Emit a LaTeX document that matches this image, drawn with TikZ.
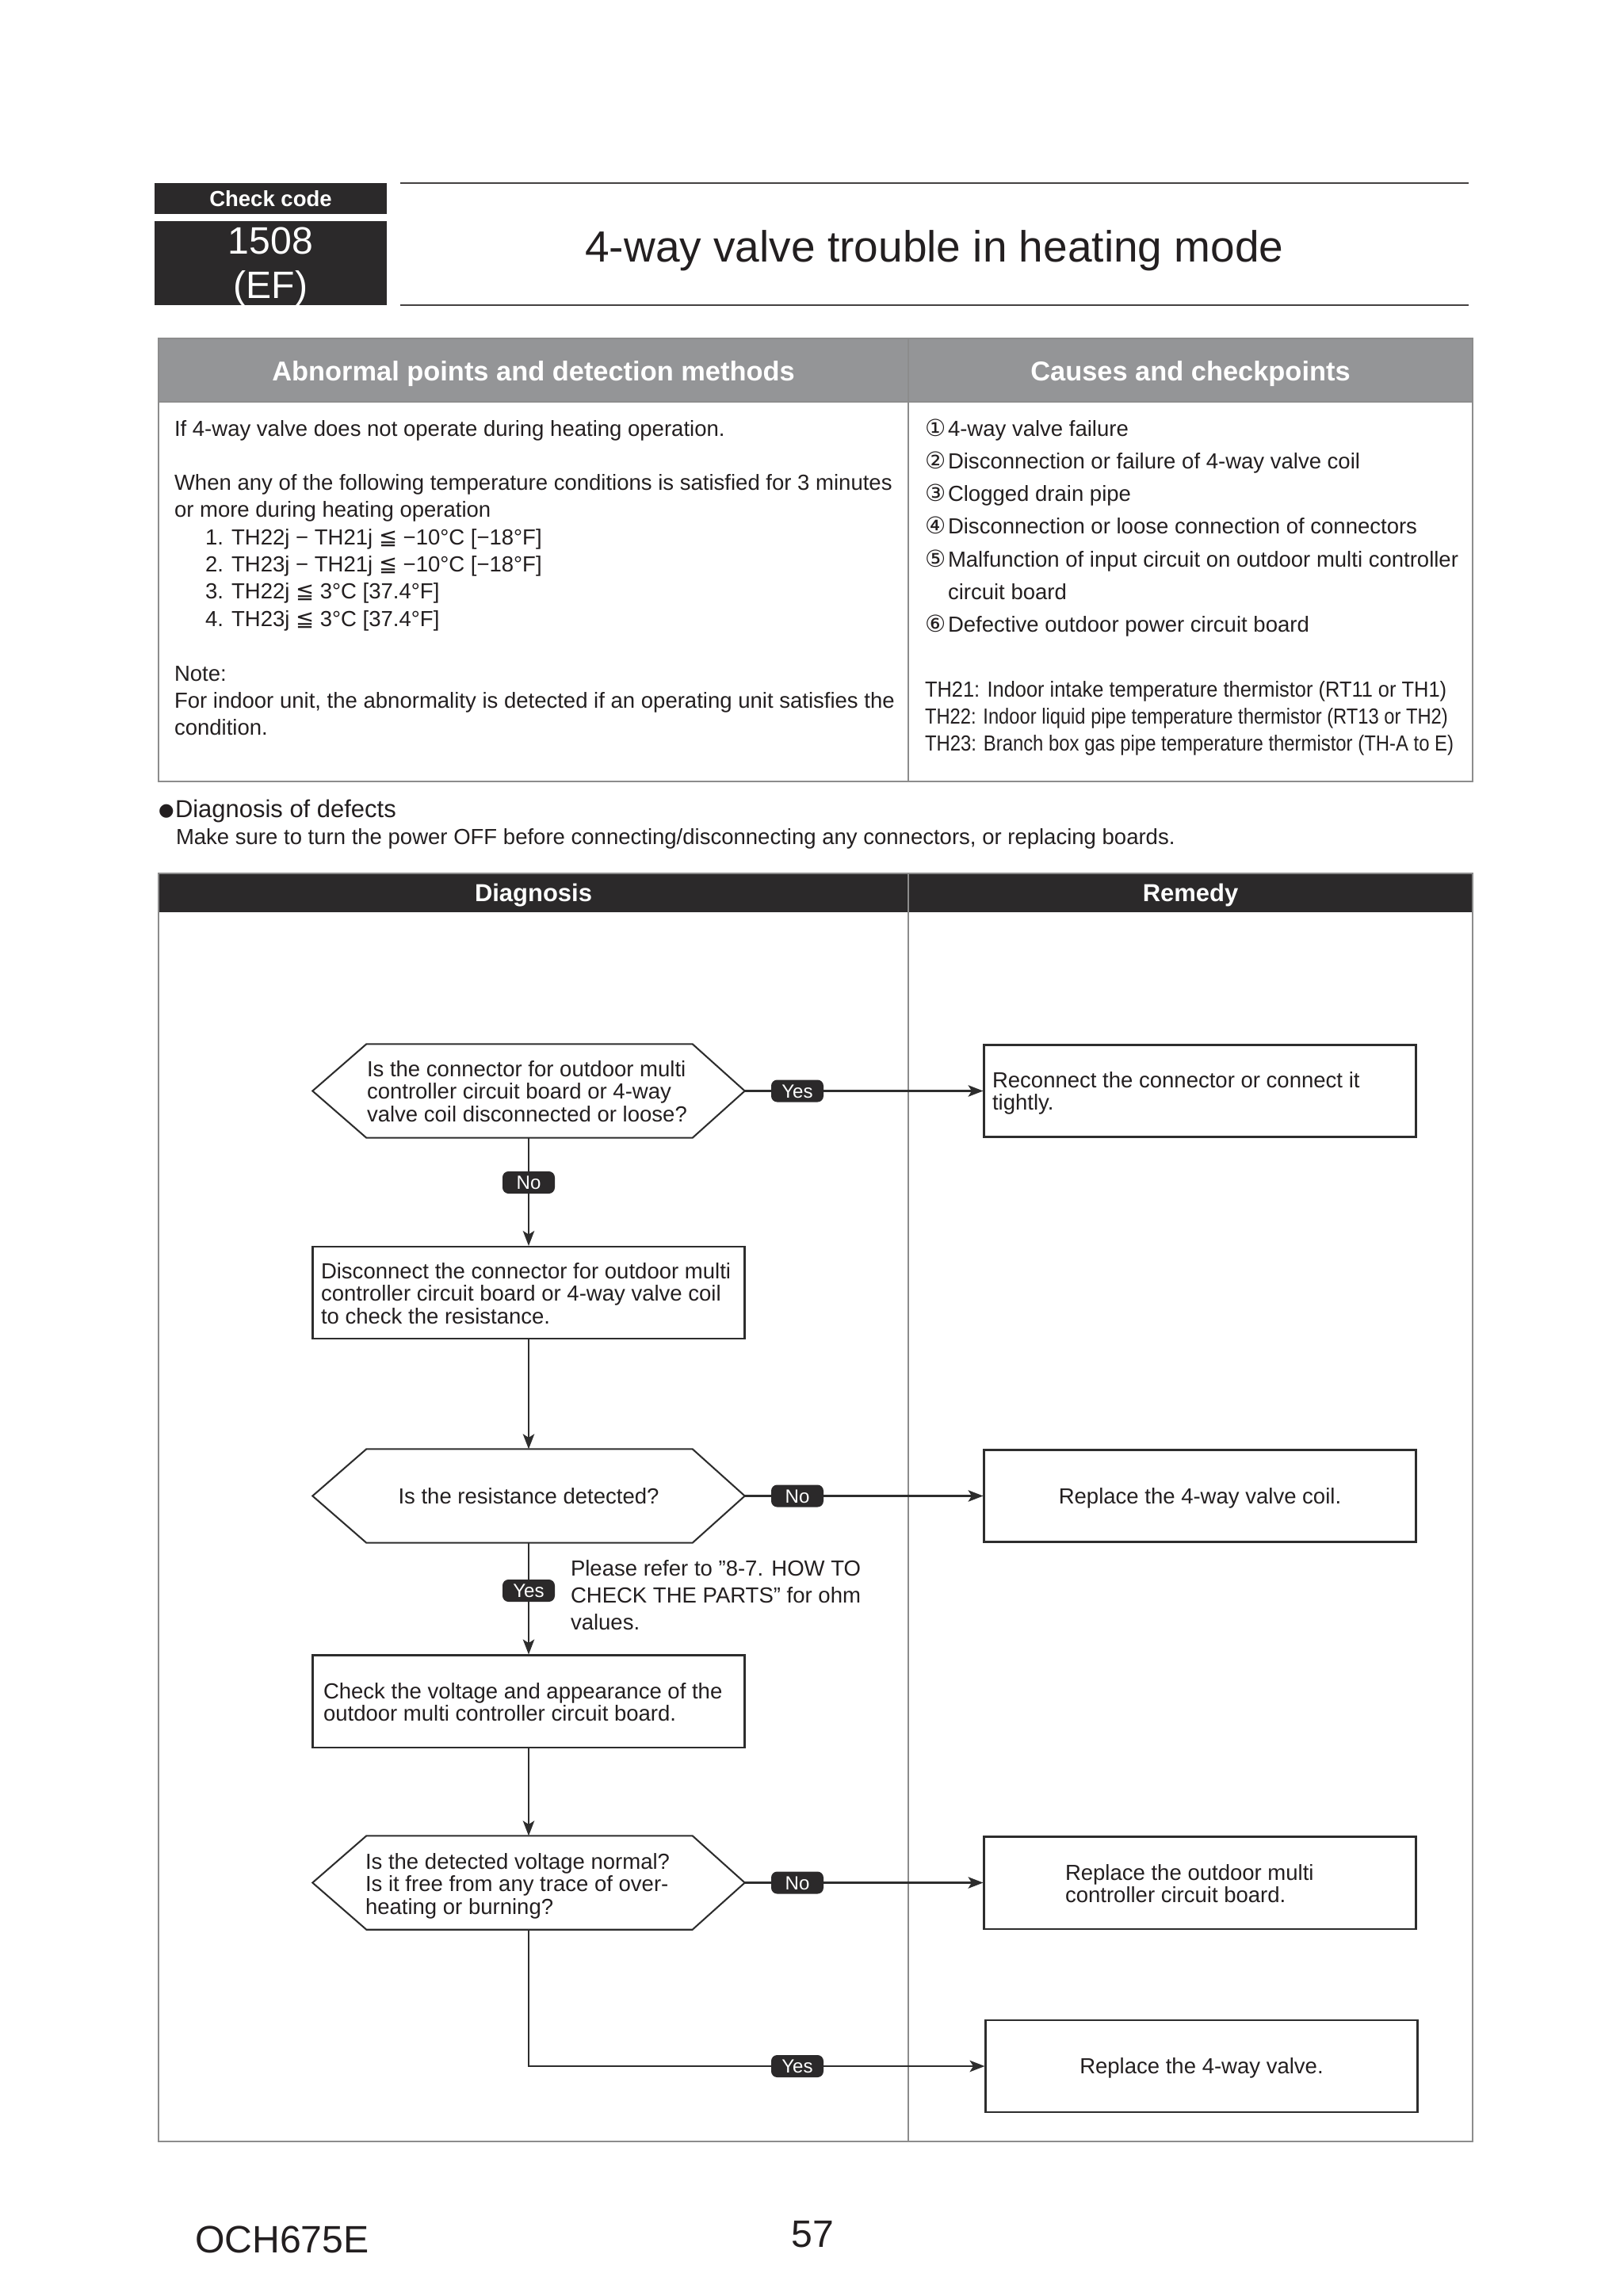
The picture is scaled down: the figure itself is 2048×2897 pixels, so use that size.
\documentclass[tikz,border=0pt]{standalone}
\usepackage{fontspec}
\setmainfont{Liberation Sans}[Ligatures=ResetAll]
\newfontfamily\dejavu{DejaVu Sans}
\usepackage{graphicx}
\usetikzlibrary{calc,arrows.meta}
\definecolor{ink}{RGB}{35,31,32}
\definecolor{dark}{RGB}{43,41,42}
\definecolor{hdrgray}{RGB}{148,149,151}
\definecolor{rulec}{RGB}{140,140,140}
\definecolor{linec}{RGB}{45,45,45}
\newcommand\fs[2]{\fontsize{#1}{#2}\selectfont}
\newcommand\fstrut{\rule{0pt}{7pt}}
\newcommand\mylq{{\dejavu ≦}}
\newcommand\hexof[1]{\draw[hexs] (#1.west) -- ($(#1.north west)+(68,0)$) -- ($(#1.north east)+(-66,0)$) -- (#1.east) -- ($(#1.south east)+(-66,0)$) -- ($(#1.south west)+(68,0)$) -- cycle;}
\begin{document}
\begin{tikzpicture}[x=0.29066pt,y=-0.29066pt,
  txt/.style={inner sep=0pt, outer sep=0pt, text=ink, font=\fs{8}{10}},
  one/.style={txt, anchor=base west},
  onec/.style={txt, anchor=base},
  blk/.style={txt, anchor=north west, align=left, yshift=7pt},
  blkc/.style={txt, anchor=north, align=center, yshift=7pt},
  fbox/.style={draw=linec, line width=0.6pt, minimum width=158.41pt, minimum height=33.72pt, inner sep=0pt},
  dec/.style={minimum width=158.12pt, minimum height=34.01pt, inner sep=0pt},
  hexs/.style={draw=linec, line width=0.6pt},
  lab/.style={fill=dark, text=white, rounded corners=2.2pt, font=\fs{7}{7}, minimum width=19.18pt, minimum height=8.14pt, inner sep=0pt, text height=5pt, text depth=0pt},
  arr/.style={draw=linec, line width=0.6pt, -{Stealth[length=5.5pt,width=4.2pt,inset=1.3pt]}},
  hdr/.style={inner sep=0pt, text=white, anchor=base}
]
\useasboundingbox (0,0) rectangle (2048,2897);
\fill[white] (0,0) rectangle (2048,2897);

% ---------- header ----------
\node[fill=dark, minimum width=85.16pt, minimum height=11.34pt, inner sep=0pt] (ccbox) at (341.5,250.5) {};
\node[hdr, font=\bfseries\fs{8}{8}] (cctext) at (341.5,260) {Check code};
\node[fill=dark, minimum width=85.16pt, minimum height=30.81pt, inner sep=0pt] (codebox) at (341.5,332) {};
\node[hdr, font=\fs{14}{14}] (code1) at (341.5,320) {1508};
\node[hdr, font=\fs{14}{14}] (code2) at (341.5,376) {(EF)};
\draw[draw=ink!85, line width=0.8pt] (505,231) -- (1853,231);
\draw[draw=ink!85, line width=0.8pt] (505,385) -- (1853,385);
\node[onec, font=\fs{16}{16}] (title) at (1179,330) {4-way valve trouble in heating mode};

% ---------- table 1 ----------
\fill[hdrgray] (200,427) rectangle (1858,507);
\draw[rulec, line width=0.8pt] (200,427) rectangle (1858,986);
\draw[rulec, line width=0.8pt] (200,507) -- (1858,507);
\draw[rulec, line width=0.8pt] (1146,427) -- (1146,986);
\node[hdr, font=\bfseries\fs{10}{10}] (h1) at (673,480) {Abnormal points and detection methods};
\node[hdr, font=\bfseries\fs{10}{10}] (h2) at (1502,480) {Causes and checkpoints};

\node[one] (l1) at (220,550) {If 4-way valve does not operate during heating operation.};
\node[blk] (l2) at (220,618) {\fstrut When any of the following temperature conditions is satisfied for 3 minutes\\or more during heating operation};
\node[blk] (l3) at (259,687) {\fstrut 1. TH22j − TH21j \mylq\ −10°C [−18°F]\\2. TH23j − TH21j \mylq\ −10°C [−18°F]\\3. TH22j \mylq\ 3°C [37.4°F]\\4. TH23j \mylq\ 3°C [37.4°F]};
\node[blk] (l4) at (220,859) {\fstrut Note:\\For indoor unit, the abnormality is detected if an operating unit satisfies the\\condition.};

\node[blk, font=\dejavu\fs{8.5}{12}] (rn) at (1167,550) {\fstrut ①\\②\\③\\④\\⑤\\\mbox{}\\⑥};
\node[blk, font=\fs{8}{12}] (rt) at (1196,550) {\fstrut 4-way valve failure\\Disconnection or failure of 4-way valve coil\\Clogged drain pipe\\Disconnection or loose connection of connectors\\Malfunction of input circuit on outdoor multi controller\\circuit board\\Defective outdoor power circuit board};
\node[blk] (th) at (1167,879) {\fstrut\resizebox{191.3pt}{\height}{TH21: Indoor intake temperature thermistor (RT11 or TH1)}\\\resizebox{191.8pt}{\height}{TH22: Indoor liquid pipe temperature thermistor (RT13 or TH2)}\\\resizebox{193.9pt}{\height}{TH23: Branch box gas pipe temperature thermistor (TH-A to E)}};

% ---------- diagnosis intro ----------
\node[one, font=\dejavu\fs{6.5}{6.5}] (bul) at (200,1029) {●};
\node[one, font=\fs{9}{9}] (diagt) at (221,1031) {Diagnosis of defects};
\node[one] (make) at (222,1065) {Make sure to turn the power OFF before connecting/disconnecting any connectors, or replacing boards.};

% ---------- table 2 ----------
\fill[dark] (200,1102) rectangle (1858,1151);
\draw[rulec, line width=0.8pt] (200,1102) rectangle (1858,2702);
\draw[rulec, line width=0.8pt] (1146,1102) -- (1146,2702);
\node[hdr, font=\bfseries\fs{9}{9}] (t2a) at (673,1137) {Diagnosis};
\node[hdr, font=\bfseries\fs{9}{9}] (t2b) at (1502,1137) {Remedy};

% ---------- flowchart nodes ----------
\node[dec] (d1) at (667,1376.5) {};
\node[fbox] (r1) at (1514,1376.5) {};
\node[fbox] (b2) at (667,1631) {};
\node[dec] (d2) at (667,1887.5) {};
\node[fbox] (r2) at (1514,1887.5) {};
\node[fbox] (b3) at (667,2146.5) {};
\node[dec] (d3) at (667,2375.5) {};
\node[fbox] (r3) at (1514,2375.5) {};
\node[fbox] (r4) at (1516,2607) {};

\hexof{d1}
\hexof{d2}
\hexof{d3}

% ---------- connectors ----------
\draw[arr] (d1.east) -- (r1.west);
\draw[arr] (d1.south) -- (b2.north);
\draw[arr] (b2.south) -- (d2.north);
\draw[arr] (d2.east) -- (r2.west);
\draw[arr] (d2.south) -- (b3.north);
\draw[arr] (b3.south) -- (d3.north);
\draw[arr] (d3.east) -- (r3.west);
\draw[arr] (d3.south) |- (r4.west);

% ---------- labels ----------
\node[lab] (yes1) at (1006,1376.5) {Yes};
\node[lab] (no1) at (667,1492) {No};
\node[lab] (no2) at (1006,1887.5) {No};
\node[lab] (yes2) at (667,2007) {Yes};
\node[lab] (no3) at (1006,2375.5) {No};
\node[lab] (yes3) at (1006,2607) {Yes};

% ---------- texts ----------
\node[blk, font=\fs{8}{8.3}] (d1t) at (463,1358) {\fstrut Is the connector for outdoor multi\\controller circuit board or 4-way\\valve coil disconnected or loose?};
\node[blk, font=\fs{8}{8.3}] (r1t) at (1252,1372) {\fstrut Reconnect the connector or connect it\\tightly.};
\node[blk, font=\fs{8}{8.3}] (b2t) at (405,1613) {\fstrut Disconnect the connector for outdoor multi\\controller circuit board or 4-way valve coil\\to check the resistance.};
\node[onec] (d2t) at (667,1897) {Is the resistance detected?};
\node[onec] (r2t) at (1514,1897) {Replace the 4-way valve coil.};
\node[blk, font=\fs{8}{10}] (note) at (720,1988) {\fstrut Please refer to "8-7. HOW TO\\CHECK THE PARTS" for ohm\\values.};
\node[blk, font=\fs{8}{8.3}] (b3t) at (408,2143) {\fstrut Check the voltage and appearance of the\\outdoor multi controller circuit board.};
\node[blk, font=\fs{8}{8.3}] (d3t) at (461,2358) {\fstrut Is the detected voltage normal?\\Is it free from any trace of over-\\heating or burning?};
\node[blk, font=\fs{8}{8.3}] (r3t) at (1344,2372) {\fstrut Replace the outdoor multi\\controller circuit board.};
\node[onec] (r4t) at (1516,2616) {Replace the 4-way valve.};

% ---------- footer ----------
\node[one, font=\fs{14}{14}] (doc) at (246,2842) {OCH675E};
\node[onec, font=\fs{14}{14}] (page) at (1025,2835) {57};
\end{tikzpicture}
\end{document}
